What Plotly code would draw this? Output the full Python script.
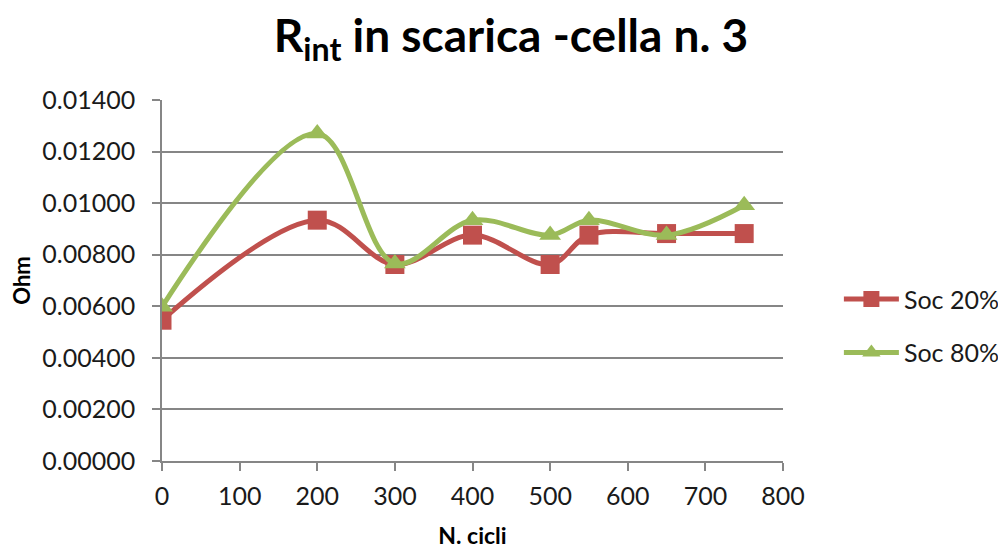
import plotly.graph_objects as go

cycles = [0, 200, 300, 400, 500, 550, 650, 750]
soc20 = [0.00546, 0.00934, 0.00762, 0.00876, 0.00762, 0.00876, 0.00882, 0.00882]
soc80 = [0.00598, 0.01270, 0.00766, 0.00934, 0.00876, 0.00934, 0.00876, 0.00992]
series_names = ["Soc 20%", "Soc 80%"]
y_ticks = [0, 0.002, 0.004, 0.006, 0.008, 0.010, 0.012, 0.014]
x_ticks = [0, 100, 200, 300, 400, 500, 600, 700, 800]

red = "#C0504D"
green = "#9BBB59"
font_family = "Lato, 'Open Sans', sans-serif"

fig = go.Figure()
fig.add_trace(go.Scatter(
    x=cycles, y=soc20, name=series_names[0], mode="lines+markers",
    line=dict(color=red, width=5, shape="spline", smoothing=1),
    marker=dict(symbol="square", size=19, color=red),
    legendgroup="a",
))
fig.add_trace(go.Scatter(
    x=cycles, y=soc80, name=series_names[1], mode="lines+markers",
    line=dict(color=green, width=5, shape="spline", smoothing=1),
    marker=dict(symbol="triangle-up", size=19, color=green),
    legendgroup="b",
))

fig.update_layout(
    width=1006, height=550,
    paper_bgcolor="white", plot_bgcolor="white",
    margin=dict(l=154, r=231, t=92, b=97, autoexpand=False),
    font=dict(family=font_family, color="#1a1a1a", size=25),
    title=dict(
        text="<b>R<sub>int</sub> in scarica -cella n. 3</b>",
        x=0.5, xanchor="center", y=0.95, yanchor="middle",
        font=dict(size=46, color="black", family=font_family),
    ),
    legend=dict(
        x=1.09, y=0.375, xanchor="left", yanchor="middle",
        font=dict(size=25, family=font_family),
        tracegroupgap=18, itemwidth=55,
        bgcolor="rgba(0,0,0,0)",
    ),
    showlegend=True,
)

fig.update_xaxes(
    range=[0, 800], tickvals=x_ticks, ticktext=[str(v) for v in x_ticks],
    showgrid=False, zeroline=False, automargin=False,
    showline=True, linecolor="#868686", linewidth=1.5,
    ticks="outside", ticklen=8, tickcolor="#868686", tickwidth=1.5,
    tickfont=dict(size=25), ticklabelstandoff=4,
    title=dict(text="<b>N. cicli</b>", font=dict(size=23, color="black"), standoff=19),
)
fig.update_yaxes(
    range=[0, 0.014], tickvals=y_ticks, ticktext=[f"{v:.5f}" for v in y_ticks],
    showgrid=True, gridcolor="#868686", gridwidth=1.5, zeroline=False, automargin=False,
    showline=True, linecolor="#868686", linewidth=1.5,
    ticks="outside", ticklen=8, tickcolor="#868686", tickwidth=1.5,
    tickfont=dict(size=25), ticklabelstandoff=12,
    title=dict(text="<b>Ohm</b>", font=dict(size=22, color="black"), standoff=14),
)

fig.write_html("out.html")
